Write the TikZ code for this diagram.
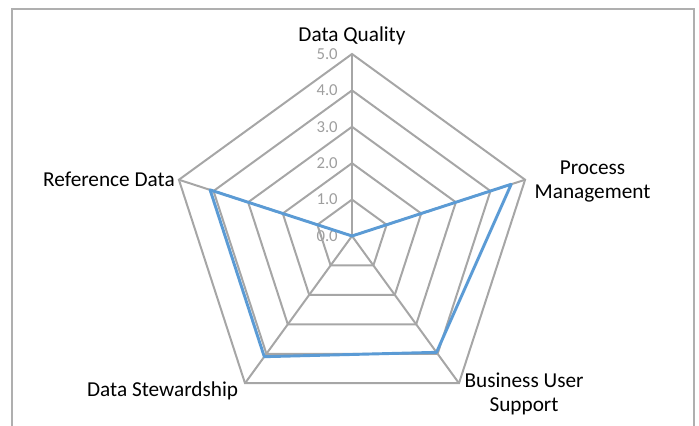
\documentclass[tikz,border=0pt]{standalone}
\usepackage{fontspec}
\setmainfont{Carlito}
\definecolor{gridgray}{HTML}{A6A6A6}
\definecolor{seriesblue}{HTML}{5B9BD5}
\tikzset{
  grid/.style = {draw=gridgray, line width=1.5pt, line join=miter},
  series/.style = {draw=seriesblue, line width=2.2pt, line join=round},
  tick/.style = {text=gridgray!95!black, font=\fontsize{12.6}{14}\selectfont, anchor=east, inner sep=0pt},
  axislabel/.style = {font=\fontsize{16}{18}\selectfont, align=center, inner sep=2pt}
}
\begin{document}
\begin{tikzpicture}[x=0.02646cm, y=0.02646cm]
    \useasboundingbox (-352,-190) rectangle (347,236);
    % frame
    \draw[draw=gridgray!90, line width=1.5pt] (-340,-190) -- (-340,227) -- (342,227) -- (342,-190);

    % axis values
    \node[tick] (t0) at (-14,0) {0.0};
    \node[tick] (t1) at (-14,36.4) {1.0};
    \node[tick] (t2) at (-14,72.8) {2.0};
    \node[tick] (t3) at (-14,109.2) {3.0};
    \node[tick] (t4) at (-14,145.6) {4.0};
    \node[tick] (t5) at (-14,182) {5.0};

    % axes
    \coordinate (O) at (0,0);
    \coordinate (dq) at (90:182);
    \coordinate (pm) at (18:182);
    \coordinate (bus) at (-54:182);
    \coordinate (ds) at (-126:182);
    \coordinate (rd) at (162:182);

    \draw[grid] (90:36.4) -- (18:36.4) -- (-54:36.4) -- (-126:36.4) -- (162:36.4) -- cycle;
    \draw[grid] (90:72.8) -- (18:72.8) -- (-54:72.8) -- (-126:72.8) -- (162:72.8) -- cycle;
    \draw[grid] (90:109.2) -- (18:109.2) -- (-54:109.2) -- (-126:109.2) -- (162:109.2) -- cycle;
    \draw[grid] (90:145.6) -- (18:145.6) -- (-54:145.6) -- (-126:145.6) -- (162:145.6) -- cycle;
    \draw[grid] (dq) -- (pm) -- (bus) -- (ds) -- (rd) -- cycle;
    \draw[grid] (O) -- (dq);
    \draw[grid] (O) -- (pm);
    \draw[grid] (O) -- (bus);
    \draw[grid] (O) -- (ds);
    \draw[grid] (O) -- (rd);

    % scores
    \coordinate (vdq) at (90:0);
    \coordinate (vpm) at (18:167.4);
    \coordinate (vbus) at (-54:143.8);
    \coordinate (vds) at (-126:149.2);
    \coordinate (vrd) at (162:149.2);
    \draw[series] (vdq) -- (vpm) -- (vbus) -- (vds) -- (vrd) -- cycle;

    % axis names
    \node[axislabel, anchor=south] (ldq) at ([yshift=5]dq) {Data Quality};
    \node[axislabel, anchor=west] (lpm) at ([xshift=5,yshift=-1]pm) {Process\\Management};
    \node[axislabel, anchor=north west, inner sep=0pt] (lbus) at ([xshift=4,yshift=8]bus) {Business User\\Support};
    \node[axislabel, anchor=north east, inner sep=0pt] (lds) at ([xshift=-5,yshift=1]ds) {Data Stewardship};
    \node[axislabel, anchor=east] (lrd) at ([xshift=-1]rd) {Reference Data};
\end{tikzpicture}
\end{document}
